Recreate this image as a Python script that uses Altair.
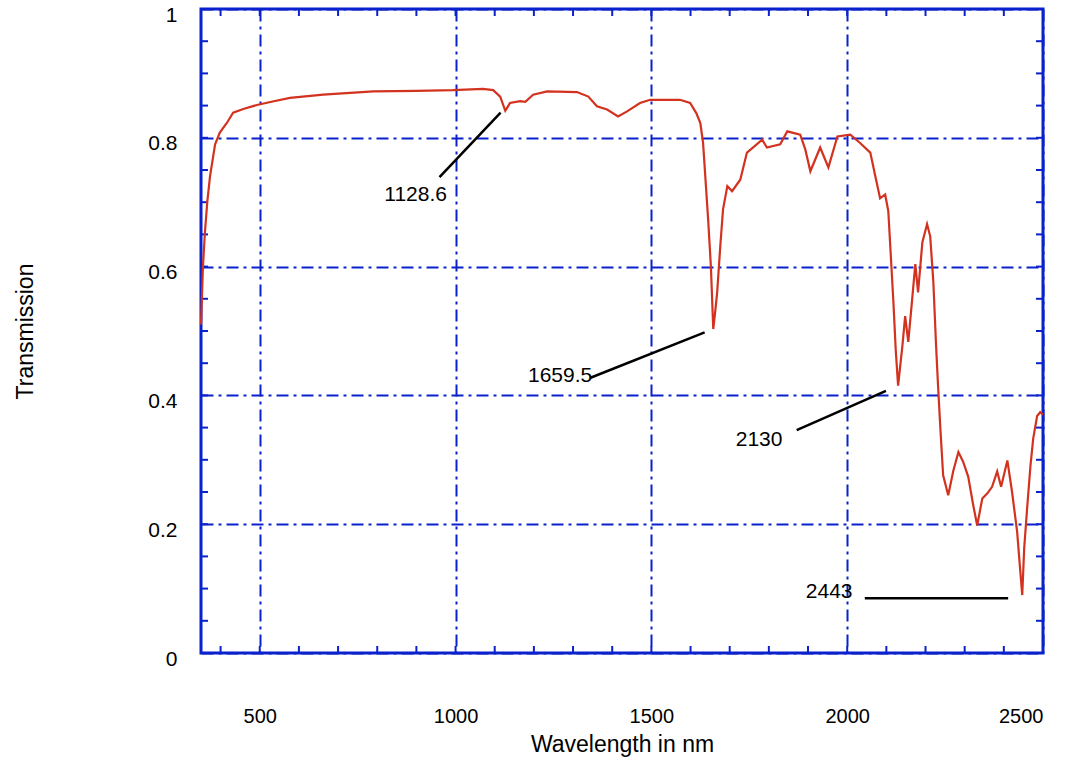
import altair as alt
import pandas as pd

wavelength = [350, 355, 360, 366, 373, 386, 398, 416, 432, 460, 493, 530, 577, 662, 790, 900, 994,
              1070, 1096, 1114, 1127, 1139, 1165, 1178, 1198, 1234, 1310, 1339, 1361, 1387, 1415,
              1438, 1471, 1497, 1573, 1599, 1615, 1625, 1632, 1645, 1652, 1658, 1663, 1668, 1676,
              1683, 1694, 1706, 1727, 1744, 1760, 1783, 1795, 1829, 1847, 1880, 1893, 1906, 1931,
              1952, 1975, 2008, 2033, 2059, 2072, 2084, 2097, 2105, 2110, 2118, 2124, 2130, 2141,
              2148, 2156, 2166, 2174, 2181, 2192, 2204, 2212, 2220, 2227, 2232, 2238, 2245, 2258,
              2271, 2284, 2296, 2309, 2322, 2332, 2345, 2358, 2370, 2383, 2393, 2409, 2421, 2434,
              2442, 2447, 2452, 2460, 2468, 2475, 2485, 2493, 2500]
transmission = [0.51, 0.60, 0.653, 0.70, 0.74, 0.79, 0.808, 0.823, 0.839, 0.845, 0.851, 0.856, 0.862,
                0.867, 0.872, 0.873, 0.874, 0.876, 0.874, 0.864, 0.842, 0.854, 0.857, 0.856, 0.867,
                0.872, 0.871, 0.864, 0.849, 0.844, 0.833, 0.841, 0.854, 0.859, 0.859, 0.854, 0.838,
                0.823, 0.792, 0.673, 0.60, 0.503, 0.53, 0.56, 0.632, 0.689, 0.725, 0.717, 0.735,
                0.777, 0.785, 0.797, 0.785, 0.79, 0.81, 0.805, 0.782, 0.748, 0.785, 0.754, 0.802,
                0.805, 0.792, 0.777, 0.740, 0.706, 0.712, 0.686, 0.632, 0.545, 0.47, 0.415, 0.477,
                0.523, 0.483, 0.55, 0.604, 0.56, 0.638, 0.666, 0.647, 0.576, 0.477, 0.415, 0.348,
                0.276, 0.245, 0.283, 0.312, 0.297, 0.274, 0.229, 0.198, 0.24, 0.248, 0.258, 0.282,
                0.258, 0.299, 0.25, 0.188, 0.127, 0.09, 0.163, 0.229, 0.291, 0.333, 0.368, 0.374, 0.37]

ann_labels = ["1128.6", "1659.5", "2130", "2443"]
ann_text_x = [898, 1267, 1775, 1954]
ann_text_y = [0.711, 0.430, 0.331, 0.095]
ann_line_x1 = [1115, 1636, 2099, 2045]
ann_line_y1 = [0.839, 0.498, 0.407, 0.085]
ann_line_x2 = [959, 1343, 1871, 2411]
ann_line_y2 = [0.739, 0.427, 0.346, 0.085]

x_major = [500, 1000, 1500, 2000, 2500]
y_major = [0, 0.2, 0.4, 0.6, 0.8, 1]
x_minor = list(range(400, 2500, 100))
y_minor = [round(0.05 * i, 2) for i in range(1, 20)]

BLUE = "#0a22cc"
RED = "#d2321e"
FONT = "Liberation Sans"
W, H = 842, 644

curve = pd.DataFrame({"wl": wavelength, "t": transmission})
ann = pd.DataFrame({"label": ann_labels, "tx": ann_text_x, "ty": ann_text_y,
                    "x1": ann_line_x1, "y1": ann_line_y1, "x2": ann_line_x2, "y2": ann_line_y2})
xt = pd.DataFrame({"v": x_minor})
yt = pd.DataFrame({"v": y_minor})

xs = alt.Scale(domain=[350, 2500], nice=False, zero=False)
ys = alt.Scale(domain=[0, 1], nice=False)

xaxis = alt.Axis(values=x_major, format="d", grid=True, gridColor=BLUE, gridDash=[12, 5, 3, 5],
                 gridWidth=2, gridOpacity=1, ticks=False, tickSize=0, domain=False,
                 labelPadding=53, labelFontSize=20, labelFont=FONT, labelColor="black",
                 title="Wavelength in nm", titleFontSize=23, titleFont=FONT, titleFontWeight="normal",
                 titleColor="black", titlePadding=7)
yaxis = alt.Axis(values=y_major, format="~g", grid=True, gridColor=BLUE, gridDash=[12, 5, 3, 5],
                 gridWidth=2, gridOpacity=1, ticks=False, tickSize=0, domain=False,
                 labelPadding=24, labelFontSize=21, labelFont=FONT, labelColor="black", labelOffset=6,
                 title="Transmission", titleFontSize=23, titleFont=FONT, titleFontWeight="normal",
                 titleColor="black", titleX=-176, titleY=H / 2, titleAngle=270, titleAlign="center",
                 titleBaseline="middle")

line = alt.Chart(curve).mark_line(color=RED, strokeWidth=2.2, interpolate="linear").encode(
    x=alt.X("wl:Q", scale=xs, axis=xaxis),
    y=alt.Y("t:Q", scale=ys, axis=yaxis),
)

tick_style = dict(color=BLUE, strokeWidth=2)
bot = alt.Chart(xt).mark_rule(**tick_style).encode(x=alt.X("v:Q", scale=xs), y=alt.value(H), y2=alt.value(H - 7))
top = alt.Chart(xt).mark_rule(**tick_style).encode(x=alt.X("v:Q", scale=xs), y=alt.value(0), y2=alt.value(7))
left = alt.Chart(yt).mark_rule(**tick_style).encode(y=alt.Y("v:Q", scale=ys), x=alt.value(0), x2=alt.value(7))
right = alt.Chart(yt).mark_rule(**tick_style).encode(y=alt.Y("v:Q", scale=ys), x=alt.value(W), x2=alt.value(W - 7))

ann_lines = alt.Chart(ann).mark_rule(color="black", strokeWidth=2.5).encode(
    x=alt.X("x1:Q", scale=xs), y=alt.Y("y1:Q", scale=ys), x2="x2:Q", y2="y2:Q")
ann_text = alt.Chart(ann).mark_text(font=FONT, fontSize=21, color="black", align="center",
                                    baseline="middle").encode(
    x=alt.X("tx:Q", scale=xs), y=alt.Y("ty:Q", scale=ys), text="label:N")

chart = alt.layer(bot, top, left, right, line, ann_lines, ann_text).properties(
    width=W, height=H,
    autosize=alt.AutoSizeParams(type="none"),
    padding={"left": 201, "top": 9, "right": 1071 - 201 - W, "bottom": 763 - 9 - H},
    background="white",
).configure_view(stroke=BLUE, strokeWidth=3)

chart.save("out.html", embed_options={"renderer": "svg", "actions": False})
